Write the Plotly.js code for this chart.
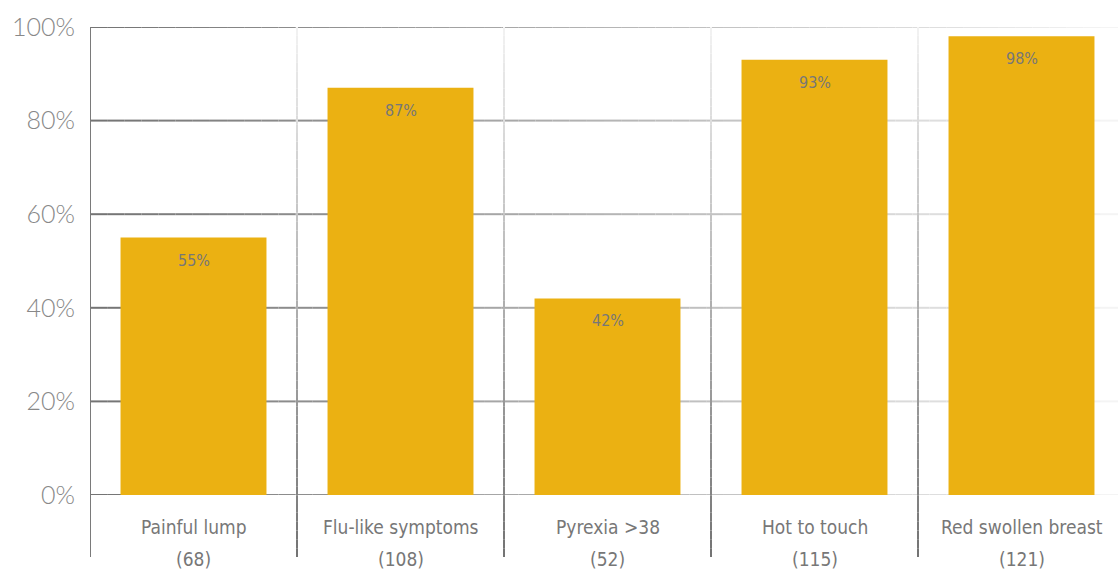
<!DOCTYPE html>
<html>
<head>
<meta charset="utf-8">
<script src="https://cdn.plot.ly/plotly-3.0.1.min.js"></script>
<style>
  html, body { margin: 0; padding: 0; background: #ffffff; }
  #chart { width: 1118px; height: 572px; }
</style>
</head>
<body>
<div id="chart"></div>
<script>
// Symptom categories with case counts, and the share of cases showing each symptom (%)
const categories = ["Painful lump", "Flu-like symptoms", "Pyrexia >38", "Hot to touch", "Red swollen breast"];
const counts = [68, 108, 52, 115, 121];
const percentages = [55, 87, 42, 93, 98];
const yTicks = [0, 20, 40, 60, 80, 100];

const barColor = "#EBB112";
const narrowFont = "'DejaVu Sans Condensed', 'Liberation Sans Narrow', sans-serif";

const xIdx = categories.map((_, i) => i);

// Blend two grey levels
function grey(a, b, t) {
  const v = Math.round(a + (b - a) * t);
  return "rgb(" + v + "," + v + "," + v + ")";
}

const shapes = [];
const SEG = 60;

// Horizontal grid lines, fading from left to right
yTicks.forEach(v => {
  for (let s = 0; s < SEG; s++) {
    shapes.push({
      type: "line", layer: "below", xref: "paper", yref: "y",
      x0: s / SEG, x1: (s + 1) / SEG, y0: v, y1: v,
      line: { color: grey(115, 245, (s + 0.5) / SEG), width: 2 }
    });
  }
});

// Category dividers, fading from bottom to top and reaching below the axis
const yLow = -0.1325;
for (let i = 0; i < categories.length - 1; i++) {
  for (let s = 0; s < SEG; s++) {
    const t0 = s / SEG, t1 = (s + 1) / SEG;
    shapes.push({
      type: "line", layer: "below", xref: "x", yref: "paper",
      x0: i + 0.5, x1: i + 0.5,
      y0: yLow + (1 - yLow) * t0, y1: yLow + (1 - yLow) * t1,
      line: { color: grey(115, 242, (s + 0.5) / SEG), width: 2 }
    });
  }
}

// Left axis line
shapes.push({
  type: "line", layer: "below", xref: "x", yref: "paper",
  x0: -0.5, x1: -0.5, y0: yLow, y1: 1,
  line: { color: "#7a7a7a", width: 2 }
});

const annotations = [];

// Value labels just inside the top of each bar
percentages.forEach((p, i) => annotations.push({
  x: i, y: p, xref: "x", yref: "y",
  text: p + "%", showarrow: false,
  yanchor: "top", yshift: -11,
  font: { family: narrowFont, size: 16, color: "#777777" }
}));

// Two-line category labels under the axis: name, then case count
categories.forEach((c, i) => {
  annotations.push({
    x: i, y: 0, xref: "x", yref: "paper",
    text: c, showarrow: false, yanchor: "middle", yshift: -32,
    font: { family: narrowFont, size: 19, color: "#777777" }
  });
  annotations.push({
    x: i, y: 0, xref: "x", yref: "paper",
    text: "(" + counts[i] + ")", showarrow: false, yanchor: "middle", yshift: -64,
    font: { family: narrowFont, size: 19, color: "#777777" }
  });
});

const trace = {
  type: "bar",
  x: xIdx,
  y: percentages,
  width: 0.705,
  marker: { color: barColor, line: { width: 0 } },
  hoverinfo: "skip"
};

const layout = {
  width: 1118, height: 572,
  margin: { l: 90, r: 0, t: 27, b: 77 },
  paper_bgcolor: "#ffffff",
  plot_bgcolor: "rgba(0,0,0,0)",
  showlegend: false,
  xaxis: {
    range: [-0.5, -0.5 + 1028 / 207],
    tickvals: xIdx,
    showticklabels: false,
    showgrid: false, zeroline: false, showline: false, ticks: "",
    fixedrange: true
  },
  yaxis: {
    range: [0, 100],
    tickvals: yTicks,
    ticktext: yTicks.map(v => v + "%"),
    showgrid: false, zeroline: false, showline: false, ticks: "",
    ticklabelstandoff: 14,
    tickfont: { family: "Lato, 'Open Sans', sans-serif", size: 25, color: "#888888", weight: 300 },
    fixedrange: true
  },
  shapes: shapes,
  annotations: annotations
};

Plotly.newPlot("chart", [trace], layout, { displayModeBar: false, staticPlot: true });
</script>
</body>
</html>
